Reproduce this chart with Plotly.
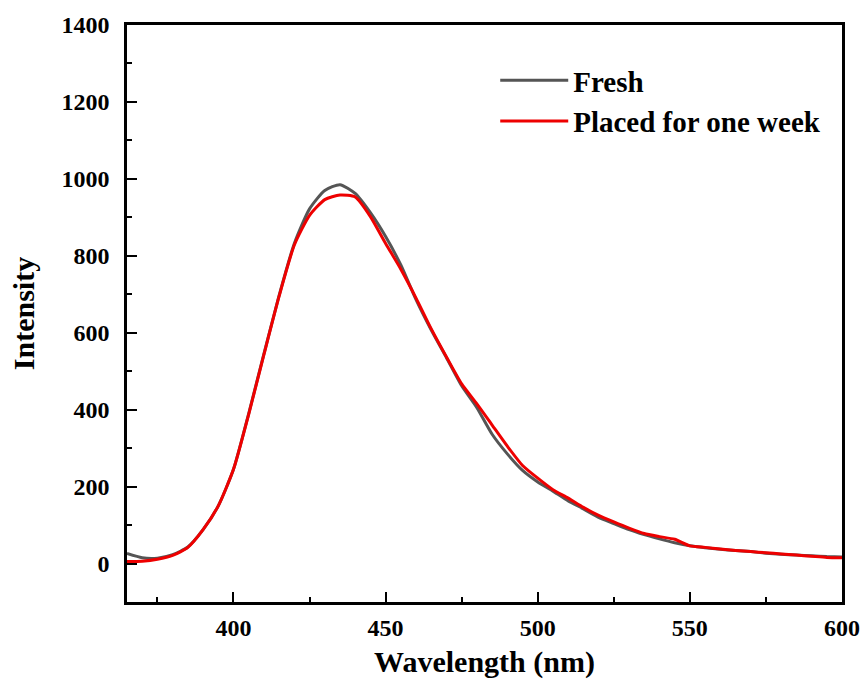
import plotly.graph_objects as go

wavelength = [365, 370, 375, 380, 385, 390, 395, 400, 405, 410, 415, 420, 425, 430, 435, 440,
              445, 450, 455, 460, 465, 470, 475, 480, 485, 490, 495, 500, 505, 510, 515, 520,
              525, 530, 535, 540, 545, 550, 555, 560, 565, 570, 575, 580, 585, 590, 595, 600]

fresh = [26, 15, 14, 23, 43, 88, 150, 245, 390, 545, 697, 832, 922, 970, 985, 962,
         912, 850, 776, 686, 607, 535, 462, 405, 336, 285, 242, 212, 188, 163, 142, 120,
         104, 88, 75, 64, 54, 46, 41, 37, 34, 31, 27, 24, 22, 20, 18, 17]

week = [5, 6, 11, 21, 42, 88, 150, 245, 388, 543, 695, 828, 905, 946, 958, 953,
        902, 832, 765, 690, 610, 537, 467, 415, 360, 305, 255, 222, 192, 170, 146, 125,
        108, 92, 78, 70, 63, 46, 42, 38, 34, 31, 28, 25, 22, 19, 16, 15]

font_family = "Liberation Serif, Times New Roman, serif"

fig = go.Figure()
fig.add_trace(go.Scatter(x=wavelength, y=fresh, mode="lines", name="Fresh",
                         line=dict(color="#555555", width=3, shape="spline", smoothing=0.6)))
fig.add_trace(go.Scatter(x=wavelength, y=week, mode="lines", name="Placed for one week",
                         line=dict(color="#ee0000", width=3, shape="spline", smoothing=0.6)))

axis_common = dict(
    showline=True, linecolor="black", linewidth=2.5, mirror=True,
    ticks="inside", ticklen=10, tickwidth=2, tickcolor="black",
    showgrid=False, zeroline=False, automargin=False,
    tickfont=dict(family=font_family, size=24, color="black", weight="bold"),
)

fig.update_xaxes(range=[365, 600], tickvals=[400, 450, 500, 550, 600],
                 ticklabelstandoff=2,
                 minor=dict(ticks="inside", ticklen=5, tickwidth=2, tickcolor="black",
                            tickvals=[375, 425, 475, 525, 575]),
                 title=dict(text="Wavelength (nm)", standoff=12,
                            font=dict(family=font_family, size=30, color="black", weight="bold")),
                 **axis_common)
fig.update_yaxes(range=[-100, 1400], tickvals=[0, 200, 400, 600, 800, 1000, 1200, 1400],
                 ticklabelstandoff=10,
                 minor=dict(ticks="inside", ticklen=5, tickwidth=2, tickcolor="black",
                            tickvals=[100, 300, 500, 700, 900, 1100, 1300]),
                 title=dict(text="Intensity", standoff=18,
                            font=dict(family=font_family, size=30, color="black", weight="bold")),
                 **axis_common)

fig.update_layout(
    width=864, height=688,
    margin=dict(l=127, r=22, t=25, b=86),
    paper_bgcolor="white", plot_bgcolor="white",
    showlegend=True,
    legend=dict(x=0.515, y=0.948, xanchor="left", yanchor="top",
                bgcolor="rgba(0,0,0,0)", borderwidth=0,
                font=dict(family=font_family, size=29, color="black", weight="bold"),
                itemwidth=68, tracegroupgap=0),
)

fig.write_html("out.html")
